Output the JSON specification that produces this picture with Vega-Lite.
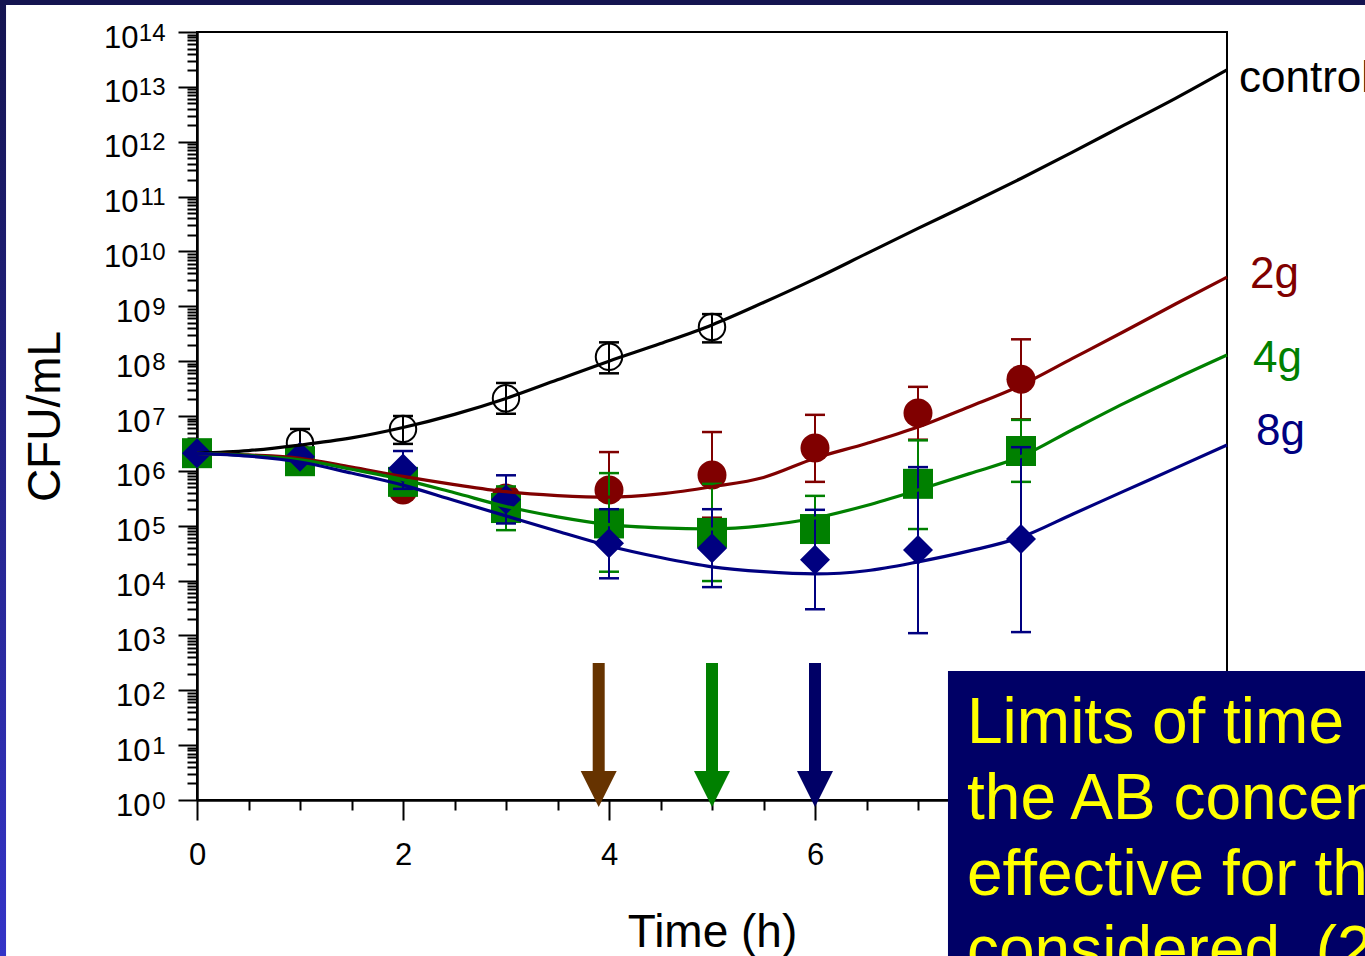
{
  "$schema": "https://vega.github.io/schema/vega-lite/v6.json",
  "autosize": {"type": "none"},
  "padding": {"left": 197, "top": 32, "right": 138, "bottom": 156},
  "width": 1030,
  "height": 768,
  "background": "white",
  "config": {
    "view": {"stroke": "black", "strokeWidth": 2},
    "font": "Liberation Sans",
    "axis": {"grid": false, "domainColor": "black", "tickColor": "black", "labelColor": "black", "titleColor": "black", "labelFont": "Liberation Sans", "titleFont": "Liberation Sans", "labelOverlap": false, "labelFlush": false, "titleFontWeight": "normal"}
  },
  "datasets": {
    "curves": [
      {"series": "control", "t": 0, "cfu": 2.09e6}, {"series": "control", "t": 0.5, "cfu": 2.34e6}, {"series": "control", "t": 1, "cfu": 2.95e6}, {"series": "control", "t": 1.5, "cfu": 3.98e6}, {"series": "control", "t": 2, "cfu": 6.17e6}, {"series": "control", "t": 2.5, "cfu": 1.07e7}, {"series": "control", "t": 3, "cfu": 2.09e7}, {"series": "control", "t": 3.5, "cfu": 4.57e7}, {"series": "control", "t": 4, "cfu": 1.0e8}, {"series": "control", "t": 4.5, "cfu": 2.09e8}, {"series": "control", "t": 5, "cfu": 4.57e8}, {"series": "control", "t": 5.5, "cfu": 1.17e9}, {"series": "control", "t": 6, "cfu": 3.16e9}, {"series": "control", "t": 6.5, "cfu": 9.12e9}, {"series": "control", "t": 7, "cfu": 2.63e10}, {"series": "control", "t": 7.5, "cfu": 7.41e10}, {"series": "control", "t": 8, "cfu": 2.14e11}, {"series": "control", "t": 8.5, "cfu": 6.46e11}, {"series": "control", "t": 9, "cfu": 2.0e12}, {"series": "control", "t": 9.5, "cfu": 6.17e12}, {"series": "control", "t": 10, "cfu": 2.04e13},
      {"series": "2g", "t": 0, "cfu": 2.09e6}, {"series": "2g", "t": 0.5, "cfu": 1.95e6}, {"series": "2g", "t": 1, "cfu": 1.7e6}, {"series": "2g", "t": 1.5, "cfu": 1.17e6}, {"series": "2g", "t": 2, "cfu": 7.94e5}, {"series": "2g", "t": 2.5, "cfu": 5.62e5}, {"series": "2g", "t": 3, "cfu": 4.17e5}, {"series": "2g", "t": 3.5, "cfu": 3.55e5}, {"series": "2g", "t": 4, "cfu": 3.31e5}, {"series": "2g", "t": 4.5, "cfu": 3.8e5}, {"series": "2g", "t": 5, "cfu": 5.13e5}, {"series": "2g", "t": 5.5, "cfu": 7.59e5}, {"series": "2g", "t": 6, "cfu": 1.7e6}, {"series": "2g", "t": 6.5, "cfu": 3.16e6}, {"series": "2g", "t": 7, "cfu": 6.31e6}, {"series": "2g", "t": 7.5, "cfu": 1.48e7}, {"series": "2g", "t": 8, "cfu": 3.63e7}, {"series": "2g", "t": 8.5, "cfu": 1.12e8}, {"series": "2g", "t": 9, "cfu": 3.47e8}, {"series": "2g", "t": 9.5, "cfu": 1.1e9}, {"series": "2g", "t": 10, "cfu": 3.39e9},
      {"series": "4g", "t": 0, "cfu": 2.09e6}, {"series": "4g", "t": 0.5, "cfu": 1.91e6}, {"series": "4g", "t": 1, "cfu": 1.58e6}, {"series": "4g", "t": 1.5, "cfu": 1.07e6}, {"series": "4g", "t": 2, "cfu": 6.92e5}, {"series": "4g", "t": 2.5, "cfu": 3.98e5}, {"series": "4g", "t": 3, "cfu": 2.24e5}, {"series": "4g", "t": 3.5, "cfu": 1.45e5}, {"series": "4g", "t": 4, "cfu": 1.05e5}, {"series": "4g", "t": 4.5, "cfu": 9.12e4}, {"series": "4g", "t": 5, "cfu": 8.71e4}, {"series": "4g", "t": 5.5, "cfu": 1.0e5}, {"series": "4g", "t": 6, "cfu": 1.38e5}, {"series": "4g", "t": 6.5, "cfu": 2.34e5}, {"series": "4g", "t": 7, "cfu": 4.47e5}, {"series": "4g", "t": 7.5, "cfu": 8.91e5}, {"series": "4g", "t": 8, "cfu": 1.82e6}, {"series": "4g", "t": 8.5, "cfu": 5.62e6}, {"series": "4g", "t": 9, "cfu": 1.7e7}, {"series": "4g", "t": 9.5, "cfu": 4.79e7}, {"series": "4g", "t": 10, "cfu": 1.29e8},
      {"series": "8g", "t": 0, "cfu": 2.09e6}, {"series": "8g", "t": 0.5, "cfu": 1.86e6}, {"series": "8g", "t": 1, "cfu": 1.45e6}, {"series": "8g", "t": 1.5, "cfu": 9.12e5}, {"series": "8g", "t": 2, "cfu": 5.5e5}, {"series": "8g", "t": 2.5, "cfu": 2.88e5}, {"series": "8g", "t": 3, "cfu": 1.51e5}, {"series": "8g", "t": 3.5, "cfu": 7.94e4}, {"series": "8g", "t": 4, "cfu": 4.27e4}, {"series": "8g", "t": 4.5, "cfu": 2.63e4}, {"series": "8g", "t": 5, "cfu": 1.78e4}, {"series": "8g", "t": 5.5, "cfu": 1.45e4}, {"series": "8g", "t": 6, "cfu": 1.32e4}, {"series": "8g", "t": 6.5, "cfu": 1.51e4}, {"series": "8g", "t": 7, "cfu": 2.19e4}, {"series": "8g", "t": 7.5, "cfu": 3.47e4}, {"series": "8g", "t": 8, "cfu": 6.17e4}, {"series": "8g", "t": 8.5, "cfu": 1.62e5}, {"series": "8g", "t": 9, "cfu": 4.27e5}, {"series": "8g", "t": 9.5, "cfu": 1.12e6}, {"series": "8g", "t": 10, "cfu": 2.95e6}
    ],
    "points": [
      {"series": "control", "t": 0, "cfu": 2.1e6},
      {"series": "control", "t": 1, "cfu": 3.2e6, "lo": 1.8e6, "hi": 5.8e6},
      {"series": "control", "t": 2, "cfu": 5.8e6, "lo": 3.1e6, "hi": 1.0e7},
      {"series": "control", "t": 3, "cfu": 2.1e7, "lo": 1.1e7, "hi": 4.0e7},
      {"series": "control", "t": 4, "cfu": 1.2e8, "lo": 6.0e7, "hi": 2.2e8},
      {"series": "control", "t": 5, "cfu": 4.2e8, "lo": 2.2e8, "hi": 7.2e8},
      {"series": "2g", "t": 0, "cfu": 2.1e6},
      {"series": "2g", "t": 1, "cfu": 1.7e6},
      {"series": "2g", "t": 2, "cfu": 4.5e5},
      {"series": "2g", "t": 3, "cfu": 3.2e5},
      {"series": "2g", "t": 4, "cfu": 4.5e5, "lo": 9.0e4, "hi": 2.2e6},
      {"series": "2g", "t": 5, "cfu": 8.4e5, "lo": 1.4e5, "hi": 5.1e6},
      {"series": "2g", "t": 6, "cfu": 2.6e6, "lo": 6.3e5, "hi": 1.05e7},
      {"series": "2g", "t": 7, "cfu": 1.13e7, "lo": 3.7e6, "hi": 3.4e7},
      {"series": "2g", "t": 8, "cfu": 4.7e7, "lo": 8.7e6, "hi": 2.5e8},
      {"series": "4g", "t": 0, "cfu": 2.1e6},
      {"series": "4g", "t": 1, "cfu": 1.5e6},
      {"series": "4g", "t": 2, "cfu": 6.3e5},
      {"series": "4g", "t": 3, "cfu": 2.1e5, "lo": 8.3e4, "hi": 5.2e5},
      {"series": "4g", "t": 4, "cfu": 1.1e5, "lo": 1.45e4, "hi": 9.1e5},
      {"series": "4g", "t": 5, "cfu": 7.4e4, "lo": 9.8e3, "hi": 5.8e5},
      {"series": "4g", "t": 6, "cfu": 8.7e4, "lo": 2.2e4, "hi": 3.5e5},
      {"series": "4g", "t": 7, "cfu": 5.8e5, "lo": 8.7e4, "hi": 3.6e6},
      {"series": "4g", "t": 8, "cfu": 2.3e6, "lo": 6.3e5, "hi": 8.5e6},
      {"series": "8g", "t": 0, "cfu": 2.1e6},
      {"series": "8g", "t": 1, "cfu": 1.8e6},
      {"series": "8g", "t": 2, "cfu": 1.1e6, "lo": 4.7e5, "hi": 2.3e6},
      {"series": "8g", "t": 3, "cfu": 3.0e5, "lo": 1.1e5, "hi": 8.3e5},
      {"series": "8g", "t": 4, "cfu": 4.8e4, "lo": 1.1e4, "hi": 2.0e5},
      {"series": "8g", "t": 5, "cfu": 3.9e4, "lo": 7.6e3, "hi": 2.0e5},
      {"series": "8g", "t": 6, "cfu": 2.4e4, "lo": 3.0e3, "hi": 1.95e5},
      {"series": "8g", "t": 7, "cfu": 3.6e4, "lo": 1.1e3, "hi": 1.17e6},
      {"series": "8g", "t": 8, "cfu": 5.7e4, "lo": 1.15e3, "hi": 2.7e6}
    ],
    "labels": [
      {"series": "control", "text": "control", "t": 10.117, "cfu": 8.05e12},
      {"series": "2g", "text": "2g", "t": 10.223, "cfu": 2.15e9},
      {"series": "4g", "text": "4g", "t": 10.252, "cfu": 6.34e7},
      {"series": "8g", "text": "8g", "t": 10.282, "cfu": 2.96e6}
    ],
    "arrows": [
      {"series": "arrow 2g", "t": 3.9, "top": 314, "bottom": 2.86, "head": 1.586},
      {"series": "arrow 4g", "t": 5.0, "top": 314, "bottom": 2.86, "head": 1.586},
      {"series": "arrow 8g", "t": 6.0, "top": 314, "bottom": 2.86, "head": 1.586}
    ],
    "box": [{"t": 7.291, "t2": 13, "cfu": 224.5, "cfu2": 1e-4}],
    "boxtext": [{"t": 7.476, "cfu": 10.94}],
    "edgeLeft": [{"t": -2.2, "t2": -1.854, "cfu": 3.98e14, "cfu2": 1.26e-3}],
    "edgeTop": [{"t": -2.2, "t2": 13, "cfu": 3.09e14, "cfu2": 1e16}]
  },
  "resolve": {"scale": {"x": "shared", "y": "shared", "color": "shared"}, "axis": {"x": "independent", "y": "independent"}},
  "layer": [
    {
      "data": {"name": "edgeLeft"},
      "mark": {"type": "rect", "fill": {"gradient": "linear", "x1": 0, "y1": 0, "x2": 0, "y2": 1, "stops": [{"offset": 0, "color": "#141450"}, {"offset": 0.5, "color": "#24248a"}, {"offset": 1, "color": "#3434c8"}]}},
      "encoding": {
        "x": {"field": "t", "type": "quantitative", "scale": {"domain": [0, 10], "nice": false, "zero": false},
          "axis": {"orient": "bottom", "values": [0.5, 1, 1.5, 2.5, 3, 3.5, 4.5, 5, 5.5, 6.5, 7, 7.5, 8.5, 9, 9.5], "tickSize": 10, "tickWidth": 2, "labels": false, "domain": false, "title": null}},
        "x2": {"field": "t2"},
        "y": {"field": "cfu", "type": "quantitative", "scale": {"type": "log", "domain": [1, 1e14], "nice": false},
          "axis": {"orient": "left", "values": [2e0,3e0,4e0,5e0,6e0,7e0,8e0,9e0,2e1,3e1,4e1,5e1,6e1,7e1,8e1,9e1,2e2,3e2,4e2,5e2,6e2,7e2,8e2,9e2,2e3,3e3,4e3,5e3,6e3,7e3,8e3,9e3,2e4,3e4,4e4,5e4,6e4,7e4,8e4,9e4,2e5,3e5,4e5,5e5,6e5,7e5,8e5,9e5,2e6,3e6,4e6,5e6,6e6,7e6,8e6,9e6,2e7,3e7,4e7,5e7,6e7,7e7,8e7,9e7,2e8,3e8,4e8,5e8,6e8,7e8,8e8,9e8,2e9,3e9,4e9,5e9,6e9,7e9,8e9,9e9,2e10,3e10,4e10,5e10,6e10,7e10,8e10,9e10,2e11,3e11,4e11,5e11,6e11,7e11,8e11,9e11,2e12,3e12,4e12,5e12,6e12,7e12,8e12,9e12,2e13,3e13,4e13,5e13,6e13,7e13,8e13,9e13], "tickSize": 10, "tickWidth": 2, "labels": false, "domain": false, "title": null}},
        "y2": {"field": "cfu2"}
      }
    },
    {
      "data": {"name": "edgeTop"},
      "mark": {"type": "rect", "fill": "#141450"},
      "encoding": {
        "x": {"field": "t", "type": "quantitative", "scale": {"domain": [0, 10], "nice": false, "zero": false}, "axis": null},
        "x2": {"field": "t2"},
        "y": {"field": "cfu", "type": "quantitative", "scale": {"type": "log", "domain": [1, 1e14], "nice": false},
          "axis": {"orient": "left", "values": [1,1e1,1e2,1e3,1e4,1e5,1e6,1e7,1e8,1e9,1e10,1e11,1e12,1e13,1e14], "ticks": false, "tickSize": 0, "domain": false, "labelExpr": "format(round(log(datum.value)/LN10), 'd')", "labelFontSize": 24, "labelAlign": "right", "labelBaseline": "middle", "labelOffset": 1, "labelPadding": 32, "title": null}},
        "y2": {"field": "cfu2"}
      }
    },
    {
      "data": {"name": "points"},
      "transform": [{"filter": "datum.series === 'control'"}],
      "layer": [
        {"mark": {"type": "rule", "color": "black", "strokeWidth": 2},
         "encoding": {"x": {"field": "t", "type": "quantitative", "axis": null}, "y": {"field": "lo", "type": "quantitative", "axis": null, "scale": {"type": "log"}}, "y2": {"field": "hi"}}},
        {"transform": [{"fold": ["lo", "hi"], "as": ["end", "v"]}, {"filter": "isValid(datum.v)"}],
         "mark": {"type": "point", "shape": "M-1,0L1,0", "size": 400, "strokeWidth": 2.5, "color": "black", "filled": false, "opacity": 1},
         "encoding": {"x": {"field": "t", "type": "quantitative", "axis": null}, "y": {"field": "v", "type": "quantitative", "axis": null, "scale": {"type": "log"}}}},
        {"mark": {"type": "point", "shape": "circle", "size": 700, "filled": false, "stroke": "black", "strokeWidth": 2, "opacity": 1},
         "encoding": {"x": {"field": "t", "type": "quantitative", "axis": null}, "y": {"field": "cfu", "type": "quantitative", "axis": null, "scale": {"type": "log"}}}}
      ]
    },
    {
      "data": {"name": "points"},
      "transform": [{"filter": "datum.series === '2g'"}],
      "layer": [
        {"mark": {"type": "rule", "color": "#800000", "strokeWidth": 2},
         "encoding": {"x": {"field": "t", "type": "quantitative", "axis": null}, "y": {"field": "lo", "type": "quantitative", "axis": null, "scale": {"type": "log"}}, "y2": {"field": "hi"}}},
        {"transform": [{"fold": ["lo", "hi"], "as": ["end", "v"]}, {"filter": "isValid(datum.v)"}],
         "mark": {"type": "point", "shape": "M-1,0L1,0", "size": 400, "strokeWidth": 2.5, "color": "#800000", "filled": false, "opacity": 1},
         "encoding": {"x": {"field": "t", "type": "quantitative", "axis": null}, "y": {"field": "v", "type": "quantitative", "axis": null, "scale": {"type": "log"}}}},
        {"mark": {"type": "point", "shape": "circle", "size": 841, "filled": true, "color": "#800000", "opacity": 1},
         "encoding": {"x": {"field": "t", "type": "quantitative", "axis": null}, "y": {"field": "cfu", "type": "quantitative", "axis": null, "scale": {"type": "log"}}}}
      ]
    },
    {
      "data": {"name": "points"},
      "transform": [{"filter": "datum.series === '4g'"}],
      "layer": [
        {"mark": {"type": "rule", "color": "#008000", "strokeWidth": 2},
         "encoding": {"x": {"field": "t", "type": "quantitative", "axis": null}, "y": {"field": "lo", "type": "quantitative", "axis": null, "scale": {"type": "log"}}, "y2": {"field": "hi"}}},
        {"transform": [{"fold": ["lo", "hi"], "as": ["end", "v"]}, {"filter": "isValid(datum.v)"}],
         "mark": {"type": "point", "shape": "M-1,0L1,0", "size": 400, "strokeWidth": 2.5, "color": "#008000", "filled": false, "opacity": 1},
         "encoding": {"x": {"field": "t", "type": "quantitative", "axis": null}, "y": {"field": "v", "type": "quantitative", "axis": null, "scale": {"type": "log"}}}},
        {"mark": {"type": "point", "shape": "square", "size": 900, "filled": true, "color": "#008000", "opacity": 1},
         "encoding": {"x": {"field": "t", "type": "quantitative", "axis": null}, "y": {"field": "cfu", "type": "quantitative", "axis": null, "scale": {"type": "log"}}}}
      ]
    },
    {
      "data": {"name": "points"},
      "transform": [{"filter": "datum.series === '8g'"}],
      "layer": [
        {"mark": {"type": "rule", "color": "#000080", "strokeWidth": 2},
         "encoding": {"x": {"field": "t", "type": "quantitative", "axis": null}, "y": {"field": "lo", "type": "quantitative", "axis": null, "scale": {"type": "log"}}, "y2": {"field": "hi"}}},
        {"transform": [{"fold": ["lo", "hi"], "as": ["end", "v"]}, {"filter": "isValid(datum.v)"}],
         "mark": {"type": "point", "shape": "M-1,0L1,0", "size": 400, "strokeWidth": 2.5, "color": "#000080", "filled": false, "opacity": 1},
         "encoding": {"x": {"field": "t", "type": "quantitative", "axis": null}, "y": {"field": "v", "type": "quantitative", "axis": null, "scale": {"type": "log"}}}},
        {"mark": {"type": "point", "shape": "diamond", "size": 900, "filled": true, "color": "#000080", "opacity": 1},
         "encoding": {"x": {"field": "t", "type": "quantitative", "axis": null}, "y": {"field": "cfu", "type": "quantitative", "axis": null, "scale": {"type": "log"}}}}
      ]
    },
    {
      "data": {"name": "curves"},
      "mark": {"type": "line", "interpolate": "monotone", "strokeWidth": 3.2},
      "encoding": {
        "x": {"field": "t", "type": "quantitative", "scale": {"domain": [0, 10], "nice": false, "zero": false},
          "axis": {"orient": "bottom", "values": [0, 2, 4, 6], "tickSize": 20, "tickWidth": 2, "domainWidth": 2.5, "labelFontSize": 31, "labelPadding": 20, "title": "Time (h)", "titleFontSize": 46, "titlePadding": 40}},
        "y": {"field": "cfu", "type": "quantitative", "scale": {"type": "log", "domain": [1, 1e14], "nice": false},
          "axis": {"orient": "left", "values": [1,1e1,1e2,1e3,1e4,1e5,1e6,1e7,1e8,1e9,1e10,1e11,1e12,1e13,1e14], "tickSize": 19, "tickWidth": 2, "domainWidth": 2.5, "labelExpr": "'10'", "labelFontSize": 31, "labelAlign": "right", "labelBaseline": "middle", "labelOffset": 6, "labelPadding": {"condition": {"test": "datum.value >= 1e10", "value": 40}, "value": 28}, "title": "CFU/mL", "titleFontSize": 46, "titlePadding": 34}},
        "color": {"field": "series", "type": "nominal", "legend": null,
          "scale": {"domain": ["control", "2g", "4g", "8g", "arrow 2g", "arrow 4g", "arrow 8g"], "range": ["#000000", "#800000", "#008000", "#000080", "#663300", "#008000", "#000066"]}},
        "detail": {"field": "series"}
      }
    },
    {
      "data": {"name": "labels"},
      "mark": {"type": "text", "fontSize": 44, "align": "left", "baseline": "alphabetic"},
      "encoding": {
        "x": {"field": "t", "type": "quantitative", "axis": null},
        "y": {"field": "cfu", "type": "quantitative", "axis": null, "scale": {"type": "log"}},
        "text": {"field": "text"},
        "color": {"field": "series", "type": "nominal", "legend": null,
          "scale": {"domain": ["control", "2g", "4g", "8g", "arrow 2g", "arrow 4g", "arrow 8g"], "range": ["#000000", "#800000", "#008000", "#000080", "#663300", "#008000", "#000066"]}}
      }
    },
    {
      "data": {"name": "arrows"},
      "mark": {"type": "rule", "strokeWidth": 12, "strokeCap": "butt"},
      "encoding": {
        "x": {"field": "t", "type": "quantitative", "axis": null},
        "y": {"field": "top", "type": "quantitative", "axis": null, "scale": {"type": "log"}},
        "y2": {"field": "bottom"},
        "color": {"field": "series", "type": "nominal", "legend": null,
          "scale": {"domain": ["control", "2g", "4g", "8g", "arrow 2g", "arrow 4g", "arrow 8g"], "range": ["#000000", "#800000", "#008000", "#000080", "#663300", "#008000", "#000066"]}}
      }
    },
    {
      "data": {"name": "arrows"},
      "mark": {"type": "point", "shape": "M-1,-1L1,-1L0,1Z", "size": 1296, "filled": true, "opacity": 1},
      "encoding": {
        "x": {"field": "t", "type": "quantitative", "axis": null},
        "y": {"field": "head", "type": "quantitative", "axis": null, "scale": {"type": "log"}},
        "color": {"field": "series", "type": "nominal", "legend": null,
          "scale": {"domain": ["control", "2g", "4g", "8g", "arrow 2g", "arrow 4g", "arrow 8g"], "range": ["#000000", "#800000", "#008000", "#000080", "#663300", "#008000", "#000066"]}}
      }
    },
    {
      "data": {"name": "box"},
      "mark": {"type": "rect", "fill": "#000066"},
      "encoding": {
        "x": {"field": "t", "type": "quantitative", "axis": null},
        "x2": {"field": "t2"},
        "y": {"field": "cfu", "type": "quantitative", "axis": null, "scale": {"type": "log"}},
        "y2": {"field": "cfu2"}
      }
    },
    {
      "data": {"name": "boxtext"},
      "mark": {"type": "text", "fontSize": 64, "align": "left", "baseline": "alphabetic", "lineHeight": 76, "color": "#ffff00"},
      "encoding": {
        "x": {"field": "t", "type": "quantitative", "axis": null},
        "y": {"field": "cfu", "type": "quantitative", "axis": null, "scale": {"type": "log"}},
        "text": {"value": ["Limits of time", "the AB concentration", "effective for the", "considered. (2"]}
      }
    }
  ]
}
